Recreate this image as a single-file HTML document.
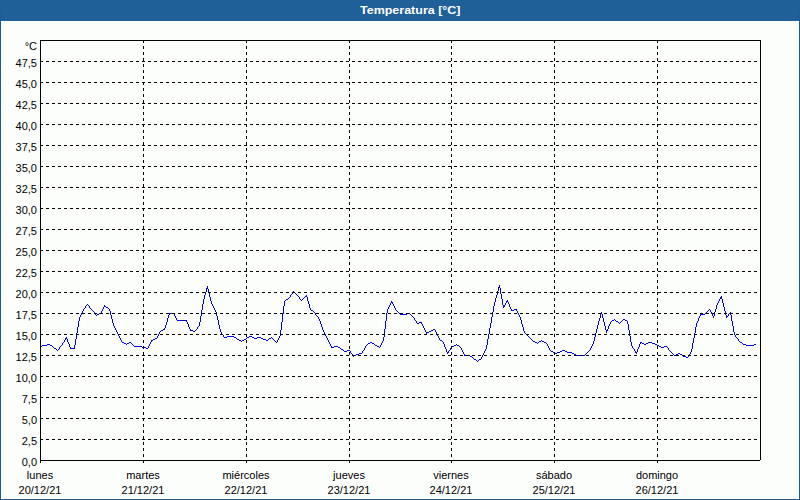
<!DOCTYPE html>
<html><head><meta charset="utf-8"><style>
html,body{margin:0;padding:0;}
body{width:800px;height:500px;position:relative;overflow:hidden;background:#fcfefc;font-family:"Liberation Sans",sans-serif;}
#frame{position:absolute;left:0;top:0;width:798px;height:478px;border:1px solid #1a5a92;border-top:21px solid #1f6098;}
#title{position:absolute;left:0;top:0;width:800px;height:21px;color:#fff;font-weight:bold;font-size:11px;}
#tt{position:absolute;left:360px;top:3px;line-height:14px;white-space:nowrap;transform-origin:0 0;transform:scaleX(1.135);}
svg{position:absolute;left:0;top:0;}
.d{stroke:#000;stroke-width:1;stroke-dasharray:3 3;}
.dv{stroke:#000;stroke-width:1;stroke-dasharray:3 3;}
.yl{position:absolute;left:0;width:37px;text-align:right;font-size:11px;line-height:14px;color:#000;}
.xl{position:absolute;width:80px;text-align:center;font-size:11px;line-height:14px;color:#000;}
</style></head><body>
<div id="frame"></div>
<div id="title"><span id="tt">Temperatura [&#176;C]</span></div>
<svg width="800" height="500" viewBox="0 0 800 500" shape-rendering="crispEdges">
<path d="M499 285h1v1h-1zM207 286h1v1h-1zM499 286h1v1h-1zM207 287h1v1h-1zM498 287h2v1h-2zM206 288h2v1h-2zM498 288h1v1h-1zM500 288h1v1h-1zM206 289h1v1h-1zM208 289h1v1h-1zM498 289h1v1h-1zM500 289h1v1h-1zM206 290h1v1h-1zM208 290h1v1h-1zM498 290h1v1h-1zM500 290h1v1h-1zM206 291h1v1h-1zM208 291h1v1h-1zM293 291h1v1h-1zM497 291h1v1h-1zM500 291h1v1h-1zM205 292h1v1h-1zM208 292h1v1h-1zM292 292h1v1h-1zM294 292h1v1h-1zM497 292h1v1h-1zM500 292h1v1h-1zM205 293h1v1h-1zM209 293h1v1h-1zM292 293h1v1h-1zM295 293h1v1h-1zM497 293h1v1h-1zM500 293h1v1h-1zM205 294h1v1h-1zM209 294h1v1h-1zM291 294h1v1h-1zM296 294h1v1h-1zM497 294h1v1h-1zM501 294h1v1h-1zM204 295h1v1h-1zM209 295h1v1h-1zM290 295h1v1h-1zM297 295h1v1h-1zM306 295h1v1h-1zM496 295h1v1h-1zM501 295h1v1h-1zM204 296h1v1h-1zM209 296h1v1h-1zM290 296h1v1h-1zM298 296h1v1h-1zM305 296h2v1h-2zM496 296h1v1h-1zM501 296h1v1h-1zM721 296h1v1h-1zM204 297h1v1h-1zM210 297h1v1h-1zM289 297h1v1h-1zM299 297h1v1h-1zM304 297h1v1h-1zM307 297h1v1h-1zM496 297h1v1h-1zM501 297h1v1h-1zM720 297h2v1h-2zM204 298h1v1h-1zM210 298h1v1h-1zM288 298h1v1h-1zM299 298h1v1h-1zM303 298h1v1h-1zM307 298h1v1h-1zM495 298h1v1h-1zM501 298h1v1h-1zM720 298h2v1h-2zM203 299h1v1h-1zM210 299h1v1h-1zM286 299h2v1h-2zM300 299h1v1h-1zM302 299h1v1h-1zM307 299h1v1h-1zM495 299h1v1h-1zM502 299h1v1h-1zM719 299h1v1h-1zM722 299h1v1h-1zM203 300h1v1h-1zM210 300h1v1h-1zM285 300h1v1h-1zM301 300h1v1h-1zM307 300h1v1h-1zM495 300h1v1h-1zM502 300h1v1h-1zM507 300h1v1h-1zM719 300h1v1h-1zM722 300h1v1h-1zM203 301h1v1h-1zM211 301h1v1h-1zM284 301h1v1h-1zM308 301h1v1h-1zM391 301h1v1h-1zM495 301h1v1h-1zM502 301h1v1h-1zM506 301h2v1h-2zM718 301h1v1h-1zM722 301h1v1h-1zM203 302h1v1h-1zM211 302h1v1h-1zM284 302h1v1h-1zM308 302h1v1h-1zM391 302h2v1h-2zM494 302h1v1h-1zM502 302h1v1h-1zM506 302h1v1h-1zM508 302h1v1h-1zM718 302h1v1h-1zM722 302h1v1h-1zM203 303h1v1h-1zM211 303h1v1h-1zM284 303h1v1h-1zM308 303h1v1h-1zM390 303h1v1h-1zM392 303h1v1h-1zM494 303h1v1h-1zM502 303h1v1h-1zM505 303h1v1h-1zM508 303h1v1h-1zM717 303h1v1h-1zM723 303h1v1h-1zM87 304h1v1h-1zM202 304h1v1h-1zM212 304h1v1h-1zM284 304h1v1h-1zM309 304h1v1h-1zM390 304h1v1h-1zM393 304h1v1h-1zM494 304h1v1h-1zM502 304h1v1h-1zM505 304h1v1h-1zM509 304h1v1h-1zM717 304h1v1h-1zM723 304h1v1h-1zM86 305h1v1h-1zM88 305h1v1h-1zM104 305h1v1h-1zM202 305h1v1h-1zM212 305h1v1h-1zM284 305h1v1h-1zM309 305h1v1h-1zM389 305h1v1h-1zM393 305h1v1h-1zM494 305h1v1h-1zM503 305h2v1h-2zM509 305h1v1h-1zM716 305h1v1h-1zM723 305h1v1h-1zM85 306h1v1h-1zM89 306h1v1h-1zM104 306h2v1h-2zM202 306h1v1h-1zM213 306h1v1h-1zM283 306h1v1h-1zM309 306h1v1h-1zM389 306h1v1h-1zM394 306h1v1h-1zM493 306h1v1h-1zM503 306h2v1h-2zM509 306h1v1h-1zM716 306h1v1h-1zM723 306h1v1h-1zM85 307h1v1h-1zM89 307h1v1h-1zM103 307h1v1h-1zM106 307h2v1h-2zM202 307h1v1h-1zM213 307h1v1h-1zM283 307h1v1h-1zM309 307h1v1h-1zM388 307h1v1h-1zM394 307h1v1h-1zM493 307h1v1h-1zM503 307h1v1h-1zM510 307h1v1h-1zM716 307h1v1h-1zM724 307h1v1h-1zM84 308h1v1h-1zM90 308h1v1h-1zM103 308h1v1h-1zM108 308h1v1h-1zM202 308h1v1h-1zM214 308h1v1h-1zM283 308h1v1h-1zM310 308h1v1h-1zM388 308h1v1h-1zM395 308h1v1h-1zM493 308h1v1h-1zM510 308h1v1h-1zM716 308h1v1h-1zM724 308h1v1h-1zM83 309h1v1h-1zM91 309h1v1h-1zM102 309h1v1h-1zM109 309h1v1h-1zM202 309h1v1h-1zM214 309h1v1h-1zM283 309h1v1h-1zM310 309h1v1h-1zM387 309h1v1h-1zM395 309h1v1h-1zM493 309h1v1h-1zM511 309h1v1h-1zM514 309h3v1h-3zM709 309h1v1h-1zM715 309h1v1h-1zM724 309h1v1h-1zM83 310h1v1h-1zM92 310h1v1h-1zM102 310h1v1h-1zM109 310h1v1h-1zM201 310h1v1h-1zM215 310h1v1h-1zM283 310h1v1h-1zM311 310h2v1h-2zM387 310h1v1h-1zM396 310h1v1h-1zM493 310h1v1h-1zM511 310h3v1h-3zM516 310h1v1h-1zM708 310h1v1h-1zM710 310h1v1h-1zM715 310h1v1h-1zM724 310h1v1h-1zM82 311h1v1h-1zM93 311h1v1h-1zM101 311h1v1h-1zM110 311h1v1h-1zM201 311h1v1h-1zM215 311h1v1h-1zM283 311h1v1h-1zM313 311h1v1h-1zM387 311h1v1h-1zM397 311h1v1h-1zM493 311h1v1h-1zM517 311h1v1h-1zM707 311h1v1h-1zM710 311h1v1h-1zM715 311h1v1h-1zM725 311h1v1h-1zM82 312h1v1h-1zM94 312h1v1h-1zM101 312h1v1h-1zM110 312h1v1h-1zM201 312h1v1h-1zM216 312h1v1h-1zM283 312h1v1h-1zM314 312h1v1h-1zM387 312h1v1h-1zM398 312h1v1h-1zM492 312h1v1h-1zM517 312h1v1h-1zM601 312h1v1h-1zM706 312h1v1h-1zM711 312h1v1h-1zM714 312h1v1h-1zM725 312h1v1h-1zM730 312h1v1h-1zM81 313h1v1h-1zM94 313h1v1h-1zM99 313h2v1h-2zM110 313h1v1h-1zM169 313h5v1h-5zM201 313h1v1h-1zM216 313h1v1h-1zM283 313h1v1h-1zM315 313h1v1h-1zM386 313h1v1h-1zM399 313h1v1h-1zM407 313h3v1h-3zM492 313h1v1h-1zM518 313h1v1h-1zM601 313h1v1h-1zM705 313h1v1h-1zM711 313h1v1h-1zM714 313h1v1h-1zM725 313h1v1h-1zM729 313h2v1h-2zM81 314h1v1h-1zM95 314h1v1h-1zM97 314h2v1h-2zM110 314h1v1h-1zM169 314h1v1h-1zM174 314h1v1h-1zM201 314h1v1h-1zM216 314h1v1h-1zM282 314h1v1h-1zM315 314h1v1h-1zM386 314h1v1h-1zM400 314h7v1h-7zM410 314h1v1h-1zM492 314h1v1h-1zM518 314h1v1h-1zM600 314h1v1h-1zM602 314h1v1h-1zM700 314h5v1h-5zM712 314h1v1h-1zM714 314h1v1h-1zM725 314h1v1h-1zM728 314h1v1h-1zM730 314h1v1h-1zM80 315h1v1h-1zM96 315h1v1h-1zM111 315h1v1h-1zM168 315h1v1h-1zM174 315h1v1h-1zM201 315h1v1h-1zM216 315h1v1h-1zM282 315h1v1h-1zM316 315h1v1h-1zM386 315h1v1h-1zM411 315h1v1h-1zM492 315h1v1h-1zM519 315h1v1h-1zM600 315h1v1h-1zM602 315h1v1h-1zM700 315h1v1h-1zM712 315h1v1h-1zM714 315h1v1h-1zM726 315h1v1h-1zM728 315h1v1h-1zM731 315h1v1h-1zM80 316h1v1h-1zM111 316h1v1h-1zM168 316h1v1h-1zM175 316h1v1h-1zM200 316h1v1h-1zM217 316h1v1h-1zM282 316h1v1h-1zM317 316h1v1h-1zM386 316h1v1h-1zM412 316h1v1h-1zM492 316h1v1h-1zM519 316h1v1h-1zM600 316h1v1h-1zM602 316h1v1h-1zM699 316h1v1h-1zM713 316h1v1h-1zM726 316h2v1h-2zM731 316h1v1h-1zM79 317h1v1h-1zM111 317h1v1h-1zM168 317h1v1h-1zM175 317h1v1h-1zM200 317h1v1h-1zM217 317h1v1h-1zM282 317h1v1h-1zM318 317h1v1h-1zM386 317h1v1h-1zM413 317h1v1h-1zM491 317h1v1h-1zM520 317h1v1h-1zM600 317h1v1h-1zM602 317h1v1h-1zM699 317h1v1h-1zM713 317h1v1h-1zM726 317h1v1h-1zM731 317h1v1h-1zM79 318h1v1h-1zM111 318h1v1h-1zM167 318h1v1h-1zM176 318h1v1h-1zM200 318h1v1h-1zM217 318h1v1h-1zM282 318h1v1h-1zM318 318h1v1h-1zM386 318h1v1h-1zM414 318h1v1h-1zM491 318h1v1h-1zM520 318h1v1h-1zM599 318h1v1h-1zM603 318h1v1h-1zM698 318h1v1h-1zM731 318h1v1h-1zM79 319h1v1h-1zM112 319h1v1h-1zM167 319h1v1h-1zM176 319h1v1h-1zM200 319h1v1h-1zM217 319h1v1h-1zM282 319h1v1h-1zM319 319h1v1h-1zM386 319h1v1h-1zM414 319h1v1h-1zM491 319h1v1h-1zM520 319h1v1h-1zM599 319h1v1h-1zM603 319h1v1h-1zM614 319h1v1h-1zM623 319h2v1h-2zM698 319h1v1h-1zM731 319h1v1h-1zM79 320h1v1h-1zM112 320h1v1h-1zM167 320h1v1h-1zM177 320h10v1h-10zM200 320h1v1h-1zM218 320h1v1h-1zM282 320h1v1h-1zM319 320h1v1h-1zM386 320h1v1h-1zM415 320h1v1h-1zM491 320h1v1h-1zM521 320h1v1h-1zM599 320h1v1h-1zM603 320h1v1h-1zM612 320h2v1h-2zM615 320h1v1h-1zM622 320h1v1h-1zM625 320h2v1h-2zM698 320h1v1h-1zM731 320h1v1h-1zM78 321h1v1h-1zM112 321h1v1h-1zM167 321h1v1h-1zM186 321h1v1h-1zM200 321h1v1h-1zM218 321h1v1h-1zM282 321h1v1h-1zM320 321h1v1h-1zM385 321h1v1h-1zM416 321h1v1h-1zM491 321h1v1h-1zM521 321h1v1h-1zM598 321h1v1h-1zM603 321h1v1h-1zM611 321h1v1h-1zM616 321h2v1h-2zM621 321h1v1h-1zM627 321h1v1h-1zM697 321h1v1h-1zM732 321h1v1h-1zM78 322h1v1h-1zM112 322h1v1h-1zM166 322h1v1h-1zM187 322h1v1h-1zM199 322h1v1h-1zM218 322h1v1h-1zM281 322h1v1h-1zM320 322h1v1h-1zM385 322h1v1h-1zM416 322h1v1h-1zM419 322h3v1h-3zM491 322h1v1h-1zM521 322h1v1h-1zM598 322h1v1h-1zM604 322h1v1h-1zM610 322h1v1h-1zM618 322h1v1h-1zM620 322h1v1h-1zM627 322h1v1h-1zM697 322h1v1h-1zM732 322h1v1h-1zM78 323h1v1h-1zM113 323h1v1h-1zM166 323h1v1h-1zM187 323h1v1h-1zM199 323h1v1h-1zM218 323h1v1h-1zM281 323h1v1h-1zM320 323h1v1h-1zM385 323h1v1h-1zM417 323h2v1h-2zM421 323h1v1h-1zM490 323h1v1h-1zM521 323h1v1h-1zM598 323h1v1h-1zM604 323h1v1h-1zM610 323h1v1h-1zM619 323h1v1h-1zM627 323h1v1h-1zM696 323h1v1h-1zM732 323h1v1h-1zM78 324h1v1h-1zM113 324h1v1h-1zM166 324h1v1h-1zM188 324h1v1h-1zM199 324h1v1h-1zM218 324h1v1h-1zM281 324h1v1h-1zM321 324h1v1h-1zM385 324h1v1h-1zM422 324h1v1h-1zM490 324h1v1h-1zM522 324h1v1h-1zM598 324h1v1h-1zM604 324h1v1h-1zM609 324h1v1h-1zM628 324h1v1h-1zM696 324h1v1h-1zM732 324h1v1h-1zM78 325h1v1h-1zM113 325h1v1h-1zM165 325h1v1h-1zM188 325h1v1h-1zM199 325h1v1h-1zM219 325h1v1h-1zM281 325h1v1h-1zM321 325h1v1h-1zM385 325h1v1h-1zM422 325h1v1h-1zM490 325h1v1h-1zM522 325h1v1h-1zM597 325h1v1h-1zM604 325h1v1h-1zM609 325h1v1h-1zM628 325h1v1h-1zM696 325h1v1h-1zM732 325h1v1h-1zM78 326h1v1h-1zM114 326h1v1h-1zM165 326h1v1h-1zM188 326h1v1h-1zM198 326h1v1h-1zM219 326h1v1h-1zM281 326h1v1h-1zM321 326h1v1h-1zM385 326h1v1h-1zM423 326h1v1h-1zM490 326h1v1h-1zM522 326h1v1h-1zM597 326h1v1h-1zM605 326h1v1h-1zM608 326h1v1h-1zM628 326h1v1h-1zM696 326h1v1h-1zM733 326h1v1h-1zM77 327h1v1h-1zM114 327h1v1h-1zM165 327h1v1h-1zM189 327h1v1h-1zM197 327h1v1h-1zM219 327h1v1h-1zM281 327h1v1h-1zM322 327h1v1h-1zM385 327h1v1h-1zM423 327h1v1h-1zM490 327h1v1h-1zM523 327h1v1h-1zM597 327h1v1h-1zM605 327h1v1h-1zM608 327h1v1h-1zM628 327h1v1h-1zM695 327h1v1h-1zM733 327h1v1h-1zM77 328h1v1h-1zM115 328h1v1h-1zM164 328h1v1h-1zM189 328h1v1h-1zM197 328h1v1h-1zM219 328h1v1h-1zM281 328h1v1h-1zM322 328h1v1h-1zM385 328h1v1h-1zM424 328h1v1h-1zM489 328h1v1h-1zM523 328h1v1h-1zM597 328h1v1h-1zM605 328h1v1h-1zM608 328h1v1h-1zM628 328h1v1h-1zM695 328h1v1h-1zM733 328h1v1h-1zM77 329h1v1h-1zM115 329h1v1h-1zM163 329h2v1h-2zM190 329h1v1h-1zM196 329h1v1h-1zM220 329h1v1h-1zM281 329h1v1h-1zM322 329h1v1h-1zM384 329h1v1h-1zM424 329h1v1h-1zM433 329h2v1h-2zM489 329h1v1h-1zM523 329h1v1h-1zM596 329h1v1h-1zM605 329h1v1h-1zM607 329h1v1h-1zM628 329h1v1h-1zM695 329h1v1h-1zM733 329h1v1h-1zM77 330h1v1h-1zM116 330h1v1h-1zM161 330h2v1h-2zM190 330h3v1h-3zM195 330h1v1h-1zM220 330h1v1h-1zM280 330h1v1h-1zM323 330h1v1h-1zM384 330h1v1h-1zM425 330h1v1h-1zM431 330h2v1h-2zM435 330h1v1h-1zM489 330h1v1h-1zM523 330h1v1h-1zM596 330h1v1h-1zM606 330h2v1h-2zM629 330h1v1h-1zM695 330h1v1h-1zM733 330h1v1h-1zM77 331h1v1h-1zM116 331h1v1h-1zM160 331h1v1h-1zM193 331h2v1h-2zM220 331h1v1h-1zM280 331h1v1h-1zM323 331h1v1h-1zM384 331h1v1h-1zM425 331h1v1h-1zM429 331h2v1h-2zM435 331h1v1h-1zM489 331h1v1h-1zM524 331h1v1h-1zM596 331h1v1h-1zM606 331h1v1h-1zM629 331h1v1h-1zM695 331h1v1h-1zM733 331h1v1h-1zM77 332h1v1h-1zM117 332h1v1h-1zM159 332h1v1h-1zM221 332h1v1h-1zM280 332h1v1h-1zM324 332h1v1h-1zM384 332h1v1h-1zM426 332h3v1h-3zM436 332h1v1h-1zM489 332h1v1h-1zM524 332h1v1h-1zM596 332h1v1h-1zM606 332h1v1h-1zM629 332h1v1h-1zM695 332h1v1h-1zM734 332h1v1h-1zM76 333h1v1h-1zM117 333h1v1h-1zM159 333h1v1h-1zM221 333h1v1h-1zM280 333h1v1h-1zM324 333h1v1h-1zM384 333h1v1h-1zM426 333h1v1h-1zM436 333h1v1h-1zM489 333h1v1h-1zM525 333h1v1h-1zM595 333h1v1h-1zM629 333h1v1h-1zM694 333h1v1h-1zM734 333h1v1h-1zM76 334h1v1h-1zM118 334h1v1h-1zM158 334h1v1h-1zM222 334h1v1h-1zM280 334h1v1h-1zM325 334h1v1h-1zM384 334h1v1h-1zM437 334h1v1h-1zM488 334h1v1h-1zM526 334h1v1h-1zM595 334h1v1h-1zM629 334h1v1h-1zM694 334h1v1h-1zM734 334h1v1h-1zM76 335h1v1h-1zM118 335h1v1h-1zM158 335h1v1h-1zM223 335h1v1h-1zM280 335h1v1h-1zM325 335h1v1h-1zM384 335h1v1h-1zM437 335h1v1h-1zM488 335h1v1h-1zM527 335h1v1h-1zM595 335h1v1h-1zM629 335h1v1h-1zM694 335h1v1h-1zM735 335h1v1h-1zM76 336h1v1h-1zM119 336h1v1h-1zM157 336h1v1h-1zM223 336h1v1h-1zM227 336h7v1h-7zM249 336h3v1h-3zM279 336h1v1h-1zM326 336h1v1h-1zM384 336h1v1h-1zM438 336h1v1h-1zM488 336h1v1h-1zM528 336h1v1h-1zM595 336h1v1h-1zM630 336h1v1h-1zM694 336h1v1h-1zM735 336h1v1h-1zM66 337h1v1h-1zM76 337h1v1h-1zM119 337h1v1h-1zM157 337h1v1h-1zM224 337h3v1h-3zM234 337h2v1h-2zM247 337h2v1h-2zM252 337h2v1h-2zM257 337h4v1h-4zM271 337h1v1h-1zM279 337h1v1h-1zM326 337h1v1h-1zM383 337h1v1h-1zM438 337h1v1h-1zM488 337h1v1h-1zM529 337h1v1h-1zM594 337h1v1h-1zM630 337h1v1h-1zM694 337h1v1h-1zM736 337h1v1h-1zM65 338h2v1h-2zM76 338h1v1h-1zM120 338h1v1h-1zM155 338h2v1h-2zM236 338h1v1h-1zM246 338h1v1h-1zM254 338h3v1h-3zM261 338h2v1h-2zM269 338h2v1h-2zM272 338h1v1h-1zM278 338h1v1h-1zM327 338h1v1h-1zM383 338h1v1h-1zM439 338h1v1h-1zM488 338h1v1h-1zM530 338h1v1h-1zM594 338h1v1h-1zM630 338h1v1h-1zM693 338h1v1h-1zM737 338h1v1h-1zM65 339h1v1h-1zM67 339h1v1h-1zM75 339h1v1h-1zM120 339h1v1h-1zM153 339h2v1h-2zM237 339h2v1h-2zM244 339h2v1h-2zM263 339h3v1h-3zM268 339h1v1h-1zM273 339h1v1h-1zM278 339h1v1h-1zM327 339h1v1h-1zM383 339h1v1h-1zM439 339h1v1h-1zM487 339h1v1h-1zM531 339h1v1h-1zM594 339h1v1h-1zM630 339h1v1h-1zM693 339h1v1h-1zM738 339h1v1h-1zM64 340h1v1h-1zM67 340h1v1h-1zM75 340h1v1h-1zM121 340h1v1h-1zM151 340h2v1h-2zM239 340h2v1h-2zM242 340h2v1h-2zM266 340h2v1h-2zM274 340h1v1h-1zM277 340h1v1h-1zM328 340h1v1h-1zM383 340h1v1h-1zM440 340h2v1h-2zM487 340h1v1h-1zM532 340h1v1h-1zM541 340h1v1h-1zM594 340h1v1h-1zM630 340h1v1h-1zM693 340h1v1h-1zM738 340h1v1h-1zM64 341h1v1h-1zM67 341h1v1h-1zM75 341h1v1h-1zM121 341h1v1h-1zM151 341h1v1h-1zM241 341h1v1h-1zM275 341h1v1h-1zM277 341h1v1h-1zM328 341h1v1h-1zM382 341h1v1h-1zM442 341h1v1h-1zM487 341h1v1h-1zM533 341h2v1h-2zM539 341h2v1h-2zM542 341h2v1h-2zM593 341h1v1h-1zM630 341h1v1h-1zM693 341h1v1h-1zM739 341h1v1h-1zM63 342h1v1h-1zM68 342h1v1h-1zM75 342h1v1h-1zM122 342h2v1h-2zM129 342h2v1h-2zM150 342h1v1h-1zM276 342h1v1h-1zM329 342h1v1h-1zM370 342h2v1h-2zM382 342h1v1h-1zM443 342h1v1h-1zM487 342h1v1h-1zM535 342h2v1h-2zM538 342h1v1h-1zM544 342h2v1h-2zM593 342h1v1h-1zM631 342h1v1h-1zM640 342h2v1h-2zM648 342h4v1h-4zM693 342h1v1h-1zM740 342h2v1h-2zM62 343h1v1h-1zM68 343h1v1h-1zM75 343h1v1h-1zM124 343h2v1h-2zM127 343h2v1h-2zM131 343h1v1h-1zM150 343h1v1h-1zM329 343h1v1h-1zM368 343h2v1h-2zM372 343h2v1h-2zM381 343h1v1h-1zM443 343h1v1h-1zM487 343h1v1h-1zM537 343h1v1h-1zM546 343h1v1h-1zM593 343h1v1h-1zM631 343h1v1h-1zM640 343h1v1h-1zM642 343h2v1h-2zM646 343h2v1h-2zM652 343h3v1h-3zM692 343h1v1h-1zM742 343h1v1h-1zM47 344h3v1h-3zM62 344h1v1h-1zM69 344h1v1h-1zM75 344h1v1h-1zM126 344h1v1h-1zM132 344h1v1h-1zM149 344h1v1h-1zM330 344h1v1h-1zM367 344h1v1h-1zM374 344h1v1h-1zM381 344h1v1h-1zM444 344h1v1h-1zM456 344h1v1h-1zM487 344h1v1h-1zM547 344h1v1h-1zM592 344h1v1h-1zM631 344h1v1h-1zM639 344h1v1h-1zM644 344h2v1h-2zM655 344h2v1h-2zM692 344h1v1h-1zM743 344h3v1h-3zM754 344h2v1h-2zM42 345h5v1h-5zM50 345h2v1h-2zM61 345h1v1h-1zM69 345h1v1h-1zM74 345h1v1h-1zM133 345h1v1h-1zM149 345h1v1h-1zM330 345h1v1h-1zM366 345h1v1h-1zM375 345h2v1h-2zM380 345h1v1h-1zM444 345h1v1h-1zM454 345h2v1h-2zM457 345h2v1h-2zM486 345h1v1h-1zM547 345h1v1h-1zM592 345h1v1h-1zM631 345h1v1h-1zM639 345h1v1h-1zM657 345h2v1h-2zM692 345h1v1h-1zM746 345h8v1h-8zM40 346h2v1h-2zM52 346h1v1h-1zM60 346h1v1h-1zM69 346h1v1h-1zM74 346h1v1h-1zM134 346h8v1h-8zM148 346h1v1h-1zM331 346h1v1h-1zM334 346h4v1h-4zM365 346h1v1h-1zM377 346h2v1h-2zM380 346h1v1h-1zM444 346h1v1h-1zM452 346h2v1h-2zM459 346h1v1h-1zM486 346h1v1h-1zM548 346h1v1h-1zM591 346h1v1h-1zM632 346h1v1h-1zM639 346h1v1h-1zM659 346h2v1h-2zM664 346h3v1h-3zM692 346h1v1h-1zM53 347h1v1h-1zM59 347h1v1h-1zM70 347h1v1h-1zM74 347h1v1h-1zM142 347h4v1h-4zM148 347h1v1h-1zM331 347h3v1h-3zM338 347h2v1h-2zM365 347h1v1h-1zM379 347h1v1h-1zM445 347h1v1h-1zM451 347h1v1h-1zM460 347h1v1h-1zM486 347h1v1h-1zM548 347h1v1h-1zM591 347h1v1h-1zM632 347h1v1h-1zM638 347h1v1h-1zM661 347h3v1h-3zM667 347h1v1h-1zM692 347h1v1h-1zM54 348h2v1h-2zM59 348h1v1h-1zM70 348h5v1h-5zM146 348h2v1h-2zM340 348h1v1h-1zM364 348h1v1h-1zM445 348h1v1h-1zM450 348h1v1h-1zM461 348h1v1h-1zM486 348h1v1h-1zM549 348h1v1h-1zM590 348h1v1h-1zM633 348h1v1h-1zM638 348h1v1h-1zM668 348h1v1h-1zM692 348h1v1h-1zM56 349h1v1h-1zM58 349h1v1h-1zM341 349h2v1h-2zM364 349h1v1h-1zM446 349h1v1h-1zM450 349h1v1h-1zM461 349h1v1h-1zM485 349h1v1h-1zM549 349h1v1h-1zM590 349h1v1h-1zM634 349h1v1h-1zM637 349h1v1h-1zM668 349h1v1h-1zM691 349h1v1h-1zM57 350h1v1h-1zM343 350h1v1h-1zM347 350h3v1h-3zM363 350h1v1h-1zM446 350h1v1h-1zM449 350h1v1h-1zM462 350h1v1h-1zM485 350h1v1h-1zM550 350h1v1h-1zM562 350h3v1h-3zM589 350h1v1h-1zM634 350h1v1h-1zM637 350h1v1h-1zM669 350h1v1h-1zM691 350h1v1h-1zM344 351h3v1h-3zM350 351h1v1h-1zM362 351h1v1h-1zM446 351h1v1h-1zM448 351h1v1h-1zM462 351h1v1h-1zM484 351h1v1h-1zM551 351h2v1h-2zM560 351h2v1h-2zM565 351h2v1h-2zM588 351h1v1h-1zM635 351h1v1h-1zM637 351h1v1h-1zM670 351h1v1h-1zM691 351h1v1h-1zM350 352h1v1h-1zM362 352h1v1h-1zM447 352h2v1h-2zM463 352h1v1h-1zM484 352h1v1h-1zM553 352h1v1h-1zM557 352h3v1h-3zM567 352h5v1h-5zM587 352h1v1h-1zM635 352h2v1h-2zM671 352h1v1h-1zM690 352h1v1h-1zM351 353h1v1h-1zM359 353h3v1h-3zM447 353h1v1h-1zM463 353h1v1h-1zM483 353h1v1h-1zM554 353h3v1h-3zM572 353h2v1h-2zM586 353h1v1h-1zM636 353h1v1h-1zM672 353h1v1h-1zM678 353h2v1h-2zM690 353h1v1h-1zM352 354h1v1h-1zM356 354h3v1h-3zM464 354h1v1h-1zM483 354h1v1h-1zM574 354h2v1h-2zM585 354h1v1h-1zM673 354h1v1h-1zM676 354h2v1h-2zM680 354h2v1h-2zM689 354h1v1h-1zM352 355h1v1h-1zM354 355h2v1h-2zM464 355h6v1h-6zM482 355h1v1h-1zM576 355h9v1h-9zM674 355h2v1h-2zM682 355h1v1h-1zM688 355h1v1h-1zM353 356h1v1h-1zM470 356h2v1h-2zM482 356h1v1h-1zM683 356h3v1h-3zM688 356h1v1h-1zM472 357h1v1h-1zM481 357h1v1h-1zM686 357h2v1h-2zM473 358h1v1h-1zM481 358h1v1h-1zM474 359h2v1h-2zM479 359h2v1h-2zM476 360h1v1h-1zM478 360h1v1h-1zM477 361h1v1h-1z" fill="#0000e0"/>
<line x1="40" y1="439.5" x2="760" y2="439.5" class="d"/>
<line x1="40" y1="418.5" x2="760" y2="418.5" class="d"/>
<line x1="40" y1="397.5" x2="760" y2="397.5" class="d"/>
<line x1="40" y1="376.5" x2="760" y2="376.5" class="d"/>
<line x1="40" y1="355.5" x2="760" y2="355.5" class="d"/>
<line x1="40" y1="334.5" x2="760" y2="334.5" class="d"/>
<line x1="40" y1="313.5" x2="760" y2="313.5" class="d"/>
<line x1="40" y1="292.5" x2="760" y2="292.5" class="d"/>
<line x1="40" y1="271.5" x2="760" y2="271.5" class="d"/>
<line x1="40" y1="250.5" x2="760" y2="250.5" class="d"/>
<line x1="40" y1="229.5" x2="760" y2="229.5" class="d"/>
<line x1="40" y1="208.5" x2="760" y2="208.5" class="d"/>
<line x1="40" y1="187.5" x2="760" y2="187.5" class="d"/>
<line x1="40" y1="166.5" x2="760" y2="166.5" class="d"/>
<line x1="40" y1="145.5" x2="760" y2="145.5" class="d"/>
<line x1="40" y1="124.5" x2="760" y2="124.5" class="d"/>
<line x1="40" y1="103.5" x2="760" y2="103.5" class="d"/>
<line x1="40" y1="82.5" x2="760" y2="82.5" class="d"/>
<line x1="40" y1="61.5" x2="760" y2="61.5" class="d"/>
<line x1="143.5" y1="40" x2="143.5" y2="460" class="dv"/>
<line x1="246.5" y1="40" x2="246.5" y2="460" class="dv"/>
<line x1="349.5" y1="40" x2="349.5" y2="460" class="dv"/>
<line x1="451.5" y1="40" x2="451.5" y2="460" class="dv"/>
<line x1="554.5" y1="40" x2="554.5" y2="460" class="dv"/>
<line x1="657.5" y1="40" x2="657.5" y2="460" class="dv"/>
<rect x="143" y="461" width="1" height="2"/>
<rect x="246" y="461" width="1" height="2"/>
<rect x="349" y="461" width="1" height="2"/>
<rect x="451" y="461" width="1" height="2"/>
<rect x="554" y="461" width="1" height="2"/>
<rect x="657" y="461" width="1" height="2"/>
<rect x="40" y="40" width="721" height="1"/>
<rect x="40" y="40" width="1" height="423"/>
<rect x="760" y="40" width="1" height="420"/>
<rect x="40" y="460" width="720" height="1"/>
</svg>
<div class="yl" style="top:455px">0,0</div>
<div class="yl" style="top:434px">2,5</div>
<div class="yl" style="top:413px">5,0</div>
<div class="yl" style="top:392px">7,5</div>
<div class="yl" style="top:371px">10,0</div>
<div class="yl" style="top:350px">12,5</div>
<div class="yl" style="top:329px">15,0</div>
<div class="yl" style="top:308px">17,5</div>
<div class="yl" style="top:287px">20,0</div>
<div class="yl" style="top:266px">22,5</div>
<div class="yl" style="top:245px">25,0</div>
<div class="yl" style="top:224px">27,5</div>
<div class="yl" style="top:203px">30,0</div>
<div class="yl" style="top:182px">32,5</div>
<div class="yl" style="top:161px">35,0</div>
<div class="yl" style="top:140px">37,5</div>
<div class="yl" style="top:119px">40,0</div>
<div class="yl" style="top:98px">42,5</div>
<div class="yl" style="top:77px">45,0</div>
<div class="yl" style="top:56px">47,5</div>
<div class="yl" style="top:39px">&#176;C</div>
<div class="xl" style="left:0px;top:468px">lunes</div>
<div class="xl" style="left:0px;top:483px">20/12/21</div>
<div class="xl" style="left:103px;top:468px">martes</div>
<div class="xl" style="left:103px;top:483px">21/12/21</div>
<div class="xl" style="left:206px;top:468px">mi&#233;rcoles</div>
<div class="xl" style="left:206px;top:483px">22/12/21</div>
<div class="xl" style="left:309px;top:468px">jueves</div>
<div class="xl" style="left:309px;top:483px">23/12/21</div>
<div class="xl" style="left:411px;top:468px">viernes</div>
<div class="xl" style="left:411px;top:483px">24/12/21</div>
<div class="xl" style="left:514px;top:468px">s&#225;bado</div>
<div class="xl" style="left:514px;top:483px">25/12/21</div>
<div class="xl" style="left:617px;top:468px">domingo</div>
<div class="xl" style="left:617px;top:483px">26/12/21</div>
</body></html>
